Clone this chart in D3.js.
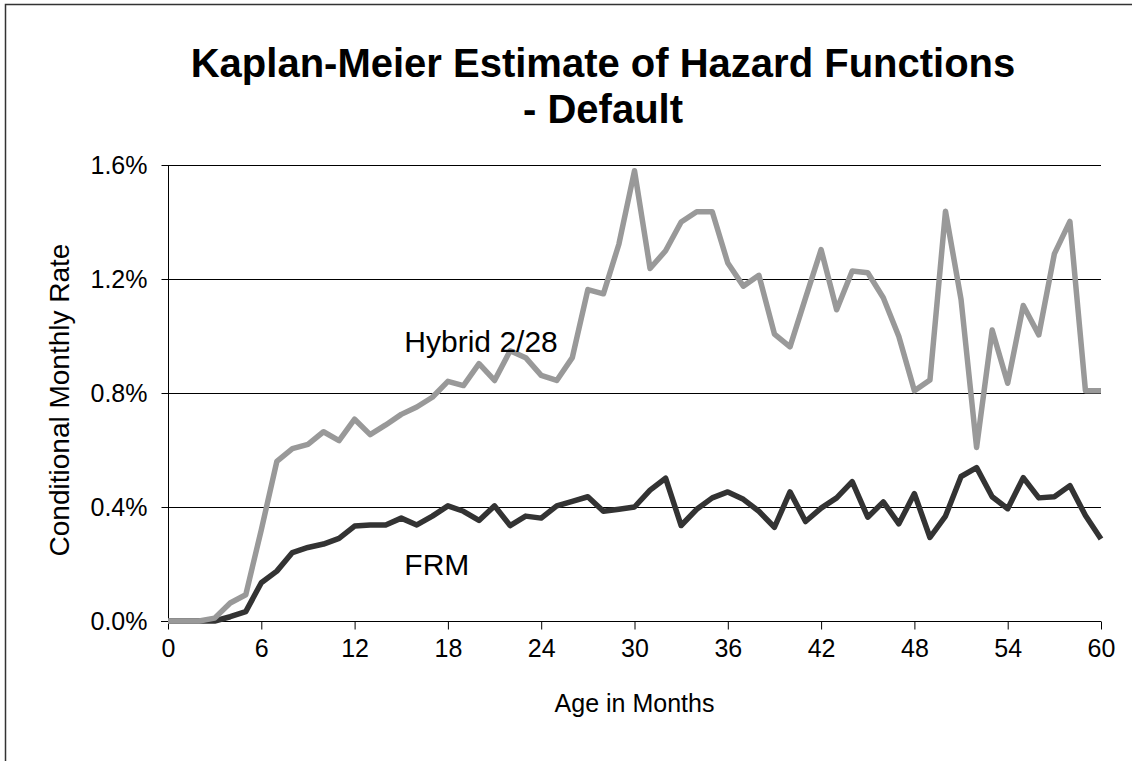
<!DOCTYPE html>
<html>
<head>
<meta charset="utf-8">
<script src="https://cdn.jsdelivr.net/npm/d3@7"></script>
<style>
  body { margin: 0; background: #fff; }
  svg { display: block; font-family: "Liberation Sans", Arial, sans-serif; }
</style>
</head>
<body>
<div id="chart"></div>
<script>
/* Kaplan-Meier hazard functions - default */

// age in months, 0..60
const months = d3.range(0, 61);

// conditional monthly rate, in percent
const hybrid = [
    0, 0, 0, 0.01, 0.063, 0.092, 0.32, 0.56, 0.605, 0.62,
    0.664, 0.633, 0.708, 0.654, 0.688, 0.725, 0.751, 0.785, 0.841, 0.826,
    0.903, 0.844, 0.948, 0.924, 0.862, 0.844, 0.924, 1.163, 1.148, 1.323,
    1.58, 1.237, 1.299, 1.40, 1.436, 1.436, 1.256, 1.175, 1.213, 1.007,
    0.962, 1.134, 1.303, 1.092, 1.228, 1.222, 1.134, 0.998, 0.808, 0.846,
    1.438, 1.128, 0.609, 1.021, 0.834, 1.107, 1.004, 1.288, 1.402, 0.808,
    0.808
];

const frm = [
    0, 0, 0, 0, 0.015, 0.033, 0.134, 0.175, 0.24, 0.258,
    0.27, 0.29, 0.333, 0.337, 0.337, 0.361, 0.337, 0.368, 0.404, 0.385,
    0.353, 0.404, 0.335, 0.368, 0.361, 0.404, 0.42, 0.436, 0.385, 0.392,
    0.40, 0.459, 0.501, 0.335, 0.392, 0.432, 0.453, 0.427, 0.385, 0.329,
    0.453, 0.349, 0.396, 0.432, 0.489, 0.364, 0.418, 0.341, 0.447, 0.293,
    0.368, 0.507, 0.538, 0.436, 0.394, 0.503, 0.432, 0.436, 0.475, 0.37,
    0.288
];

const xTicks = d3.range(0, 61, 6);
const yTicks = [0, 0.4, 0.8, 1.2, 1.6];

const width = 1132,
      height = 761,
      margin = ({ top: 165, right: 31, bottom: 140, left: 168 });

let svg = d3.select("#chart")
    .append("svg")
    .attr("width", width)
    .attr("height", height);

// chart area border (runs off the right and bottom edge)
svg.append("rect")
    .attr("x", 5.5)
    .attr("y", 4.5)
    .attr("width", width + 40)
    .attr("height", height + 40)
    .attr("fill", "none")
    .attr("stroke", "#333")
    .attr("stroke-width", 1.5);

let x = d3.scaleLinear()
    .domain([0, 60])
    .range([margin.left, width - margin.right]);

let y = d3.scaleLinear()
    .domain([0, 1.6])
    .range([height - margin.bottom, margin.top]);

// gridlines
svg.append("g")
    .selectAll("line")
    .data(yTicks.slice(1))
    .join("line")
    .attr("x1", x(0))
    .attr("x2", x(60))
    .attr("y1", d => Math.round(y(d)) + 0.5)
    .attr("y2", d => Math.round(y(d)) + 0.5)
    .attr("stroke", "#000")
    .attr("stroke-width", 1);

// axes
let xAxis = svg.append("g")
    .attr("transform", `translate(0,${Math.round(y(0)) + 0.5})`)
    .call(d3.axisBottom(x).tickValues(xTicks).tickSize(8).tickPadding(10).tickSizeOuter(0));

let yAxis = svg.append("g")
    .attr("transform", `translate(${Math.round(x(0)) + 0.5},0)`)
    .call(d3.axisLeft(y).tickValues(yTicks).tickSize(7).tickPadding(14).tickSizeOuter(0)
        .tickFormat(d => d.toFixed(1) + "%"));

[xAxis, yAxis].forEach(a => {
    a.select(".domain").attr("stroke", "#000");
    a.selectAll(".tick line").attr("stroke", "#000");
    a.selectAll(".tick text")
        .attr("fill", "#000")
        .style("font-family", "Liberation Sans, Arial, sans-serif")
        .style("font-size", "25px");
});

// extend x axis line to the left so it meets the 0.0% tick
xAxis.select(".domain").attr("d", `M${x(0) - 7},0H${x(60)}`);
// y axis continues down as the 0 tick
yAxis.select(".domain").attr("d", `M0,${y(1.6)}V${y(0) + 8}`);

// lines
let line = d3.line()
    .x((d, i) => x(months[i]))
    .y(d => y(d));

svg.append("path")
    .datum(frm)
    .attr("fill", "none")
    .attr("stroke", "#333333")
    .attr("stroke-width", 5.5)
    .attr("stroke-linejoin", "round")
    .attr("d", line);

svg.append("path")
    .datum(hybrid)
    .attr("fill", "none")
    .attr("stroke", "#999999")
    .attr("stroke-width", 5.5)
    .attr("stroke-linejoin", "round")
    .attr("d", line);

// series labels
svg.append("text")
    .text("Hybrid 2/28")
    .attr("x", x(15.2))
    .attr("y", y(0.944))
    .style("font-size", "30px")
    .style("fill", "black");

svg.append("text")
    .text("FRM")
    .attr("x", x(15.2))
    .attr("y", y(0.161))
    .style("font-size", "30px")
    .style("fill", "black");

// title
let title = svg.append("text")
    .attr("text-anchor", "middle")
    .style("font-size", "40px")
    .style("font-weight", "bold")
    .style("fill", "black");

title.append("tspan").attr("x", 603).attr("y", 77).text("Kaplan-Meier Estimate of Hazard Functions");
title.append("tspan").attr("x", 603).attr("y", 123).text("- Default");

// axis titles
svg.append("text")
    .text("Age in Months")
    .attr("x", x(30))
    .attr("y", 712)
    .attr("text-anchor", "middle")
    .style("font-size", "25px")
    .style("fill", "black");

svg.append("text")
    .text("Conditional Monthly Rate")
    .attr("transform", `translate(69,400) rotate(-90)`)
    .attr("text-anchor", "middle")
    .style("font-size", "28px")
    .style("fill", "black");
</script>
</body>
</html>
